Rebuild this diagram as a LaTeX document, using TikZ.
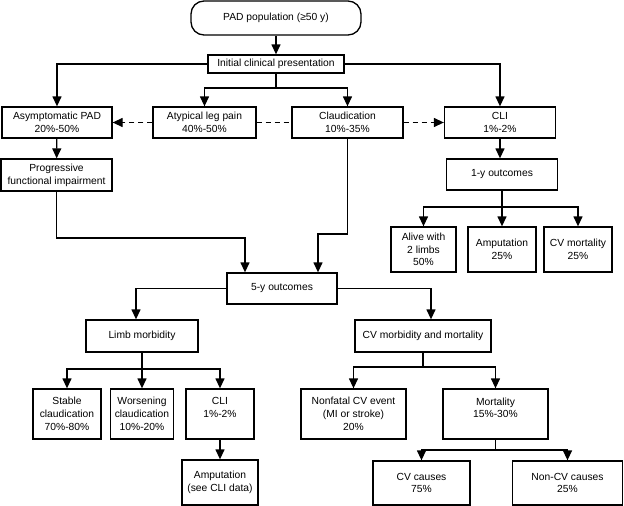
\documentclass[tikz,border=0pt]{standalone}
\usepackage{fontspec}
\setmainfont{Liberation Sans}
\usepackage{tikz}
\usetikzlibrary{arrows.meta}

\begin{document}
\begin{tikzpicture}[x=1pt,y=-1pt,
  box/.style={draw,line width=1.3pt,align=center,inner sep=1pt,
    font=\fontsize{10.3}{12.7}\selectfont},
  arr/.style={-{Triangle[length=10pt,width=9pt]},line width=1.3pt},
  dsh/.style={arr,dash pattern=on 5pt off 4pt}]
  \useasboundingbox (0,0) rectangle (624,506);

  % Top of the tree
  \node[box,rounded corners=13pt,minimum width=170pt,minimum height=34pt] (pad) at (276,18) {PAD population (≥50 y)};
  \node[box,minimum width=136pt,minimum height=18pt] (init) at (276,64) {Initial clinical presentation};
  \draw[arr] (pad) -- (init);

  % First presentation
  \node[box,minimum width=110pt,minimum height=31pt] (asym) at (57,122.5) {Asymptomatic PAD\\20\%-50\%};
  \node[box,minimum width=103pt,minimum height=31pt] (atyp) at (204.5,122.5) {Atypical leg pain\\40\%-50\%};
  \node[box,minimum width=111pt,minimum height=31pt] (claud) at (347.5,122.5) {Claudication\\10\%-35\%};
  \node[box,minimum width=111pt,minimum height=31pt] (cli) at (500,122.5) {CLI\\1\%-2\%};
  \coordinate (s1) at (init.south |- 0,88);
  \draw[arr] (init.west) -| (asym.north);
  \draw[arr] (init.east) -| (cli.north);
  \draw[line width=1.3pt] (init.south) -- (s1);
  \draw[arr] (s1) -| (atyp.north);
  \draw[arr] (s1) -| (claud.north);
  \draw[dsh] (atyp.west) -- (asym.east);
  \draw[line width=1.3pt,dash pattern=on 5pt off 4pt] (atyp.east) -- (claud.west);
  \draw[dsh] (claud.east) -- (cli.west);

  % Asymptomatic branch
  \node[box,minimum width=111pt,minimum height=32pt] (prog) at (56.5,175) {Progressive\\functional impairment};
  \draw[arr] (asym) -- (prog);

  % CLI at 1 year
  \node[box,minimum width=111pt,minimum height=31pt] (oney) at (502,174.5) {1-y outcomes};
  \draw[arr] (cli.south) -- (cli.south |- oney.north);
  \node[box,minimum width=65pt,minimum height=45pt] (alive) at (423.5,249.5) {Alive with\\2 limbs\\50\%};
  \node[box,minimum width=68pt,minimum height=45pt] (amp1) at (502,249.5) {Amputation\\25\%};
  \node[box,minimum width=68pt,minimum height=45pt] (cvmort) at (578,249.5) {CV mortality\\25\%};
  \coordinate (s2) at (oney.south |- 0,207);
  \draw[line width=1.3pt] (oney.south) -- (s2);
  \draw[arr] (s2) -| (alive.north);
  \draw[arr] (s2) -- (amp1.north);
  \draw[arr] (s2) -| (cvmort.north);

  % 5 years
  \node[box,minimum width=110pt,minimum height=31pt] (fivey) at (282,288.5) {5-y outcomes};
  \coordinate (j1) at (245,238);
  \coordinate (j2) at (318,234);
  \draw[arr] (prog.south) |- (j1) -- (j1 |- fivey.north);
  \draw[arr] (claud.south) |- (j2) -- (j2 |- fivey.north);

  \node[box,minimum width=112pt,minimum height=32pt] (limb) at (142,336) {Limb morbidity};
  \node[box,minimum width=136pt,minimum height=32pt] (cvmm) at (423,336) {CV morbidity and mortality};
  \draw[arr] (fivey.west) -| ([xshift=-6pt]limb.north);
  \draw[arr] (fivey.east) -| ([xshift=8pt]cvmm.north);

  % Limb morbidity
  \node[box,minimum width=68pt,minimum height=50pt] (stable) at (67,414) {Stable\\claudication\\70\%-80\%};
  \node[box,minimum width=63pt,minimum height=50pt] (worse) at (142,414) {Worsening\\claudication\\10\%-20\%};
  \node[box,minimum width=68pt,minimum height=50pt] (cli2) at (220,414) {CLI\\1\%-2\%\\~};
  \node[box,minimum width=76pt,minimum height=45pt] (amp2) at (220,482.5) {Amputation\\(see CLI data)};
  \coordinate (s3) at (limb.south |- 0,369);
  \draw[line width=1.3pt] (limb.south) -- (s3);
  \draw[arr] (s3) -| (stable.north);
  \draw[arr] (s3) -- (worse.north);
  \draw[arr] (s3) -| (cli2.north);
  \draw[arr] (cli2) -- (amp2);

  % CV morbidity and mortality
  \node[box,minimum width=105pt,minimum height=50pt] (nonfatal) at (353.5,414) {Nonfatal CV event\\(MI or stroke)\\20\%};
  \node[box,minimum width=105pt,minimum height=50pt] (mortal) at (495.5,414) {Mortality\\15\%-30\%\\~};
  \node[box,minimum width=97pt,minimum height=44pt] (cvc) at (421.5,483) {CV causes\\75\%};
  \node[box,minimum width=110pt,minimum height=44pt] (noncv) at (567.5,483) {Non-CV causes\\25\%};
  \coordinate (s4) at (cvmm.south |- 0,367);
  \draw[line width=1.3pt] (cvmm.south) -- (s4);
  \draw[arr] (s4) -| (nonfatal.north);
  \draw[arr] (s4) -| (mortal.north);
  \coordinate (s5) at (mortal.south |- 0,450);
  \draw[line width=1.3pt] (mortal.south) -- (s5);
  \draw[arr] (s5) -| (cvc.north);
  \draw[arr] (s5) -| (noncv.north);
\end{tikzpicture}
\end{document}
